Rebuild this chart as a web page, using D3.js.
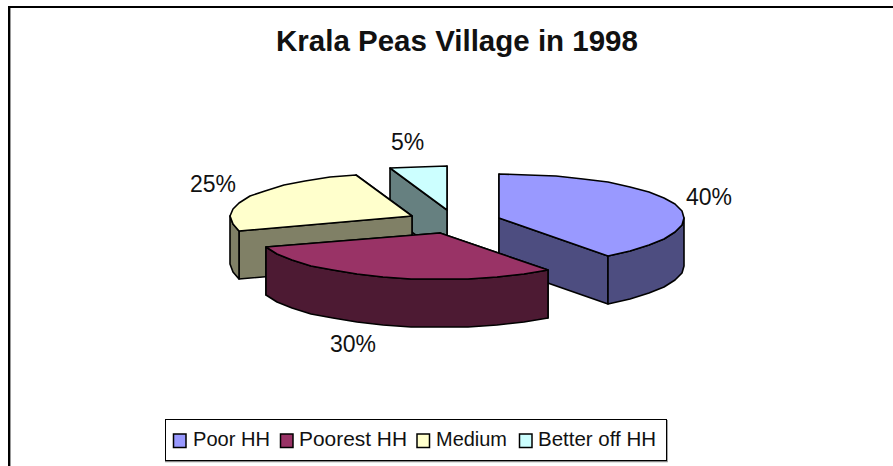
<!DOCTYPE html>
<html><head><meta charset="utf-8">
<script src="https://cdn.jsdelivr.net/npm/d3@7"></script>
<style>html,body{margin:0;padding:0;background:#fff}svg{display:block}text{font-family:"Liberation Sans",Arial,sans-serif;fill:#111}</style>
</head><body><svg id="c" width="893" height="466"></svg>
<script>
const chartTitle = "Krala Peas Village in 1998";
const categories = ["Poor HH","Poorest HH","Medium","Better off HH"];
const values = [40,30,25,5];
const labels = ["40%","30%","25%","5%"];
const topColors = ["#9999FF","#993366","#FFFFCC","#CCFFFF"];
const sideColors = ["#4D4D80","#4D1A33","#808066","#668080"];

const cx=454, cy=221.5, rxRight=185, rxLeft=182, ryBack=44, ryFront=46.5, depth=48, explode=0.257;
const svg=d3.select("#c");
svg.append("rect").attr("x",10).attr("y",8).attr("width",1).attr("height",458).attr("fill","#999");
svg.append("path").attr("d","M9,466V7H893").attr("fill","none").attr("stroke","#000").attr("stroke-width",2);

const pie=d3.pie().sort(null).value(d=>d);
const arcs=pie(values).map((d,i)=>({...d,i}));
const X=a=>{const s=Math.sin(a);return s*(s>0?rxRight:rxLeft);};
const Y=a=>{const c=Math.cos(a);return -c*(c>0?ryBack:ryFront);};
const line=d3.line();
function sample(a0,a1){
  const n=Math.max(1,Math.ceil((a1-a0)/(Math.PI/20))),pts=[];
  for(let k=0;k<=n;k++){pts.push(a0+(a1-a0)*k/n);}
  return pts;
}
const g=svg.append("g");
[3,2,0,1].forEach(idx=>{
  const d=arcs[idx], mid=(d.startAngle+d.endAngle)/2;
  const ox=cx+X(mid)*explode, oy=cy+Y(mid)*explode;
  const P=(a,dz=0)=>[Math.round(ox+X(a)),Math.round(oy+Y(a)+dz)];
  const C=(dz=0)=>[Math.round(ox),Math.round(oy+dz)];
  const s=g.append("g").attr("stroke","#000").attr("stroke-width",1.6).attr("stroke-linejoin","round");
  [d.startAngle,d.endAngle].sort((a,b)=>Y(a)-Y(b)).forEach(a=>{
    s.append("path").attr("d",line([C(),P(a),P(a,depth),C(depth)])+"Z").attr("fill",sideColors[idx]);
  });
  const lo=Math.max(d.startAngle,Math.PI/2), hi=Math.min(d.endAngle,3*Math.PI/2);
  if(hi>lo){
    const as=sample(lo,hi);
    const pts=as.map(a=>P(a)).concat(as.slice().reverse().map(a=>P(a,depth)));
    s.append("path").attr("d",line(pts)+"Z").attr("fill",sideColors[idx]);
  }
  const top=[C()].concat(sample(d.startAngle,d.endAngle).map(a=>P(a)));
  s.append("path").attr("d",line(top)+"Z").attr("fill",topColors[idx]);
});

svg.append("text").attr("x",457).attr("y",51).attr("text-anchor","middle")
  .attr("font-size",29.5).attr("font-weight",700).text(chartTitle);

const labelPos=[[709,204.5],[353,352],[213,191.5],[407.5,150]];
labels.forEach((t,i)=>svg.append("text").attr("x",labelPos[i][0]).attr("y",labelPos[i][1])
  .attr("text-anchor","middle").attr("font-size",23).text(t));

svg.append("path").attr("d","M667,420V461.5H165").attr("fill","none").attr("stroke","#888").attr("stroke-width",1.5);
svg.append("rect").attr("x",165.5).attr("y",419.5).attr("width",501).attr("height",41)
  .attr("fill","#fff").attr("stroke","#000");
const itemX=[173,280,416.5,519];
const legendTextX=[193,299,436,538];
const legendTextW=[77,108,71,118];
const leg=svg.append("g");
categories.forEach((c,i)=>{
  leg.append("rect").attr("x",itemX[i]+0.5).attr("y",434).attr("width",12.5).attr("height",13.5)
    .attr("fill",topColors[i]).attr("stroke","#000").attr("stroke-width",1.5);
  leg.append("text").attr("x",legendTextX[i]).attr("y",446).attr("font-size",21)
    .attr("textLength",legendTextW[i]).attr("lengthAdjust","spacingAndGlyphs").text(c);
});
</script></body></html>
